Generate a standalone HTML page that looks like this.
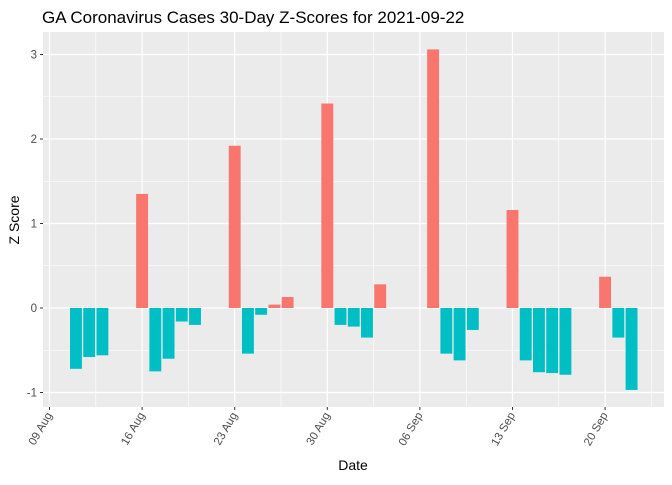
<!DOCTYPE html>
<html><head><meta charset="utf-8"><style>
body{margin:0;background:#fff;font-family:"Liberation Sans",sans-serif}
</style></head><body>
<svg id="chart" width="672" height="480" xmlns="http://www.w3.org/2000/svg" font-family="Liberation Sans, sans-serif">
<text x="42" y="23" font-size="17" fill="#000">GA Coronavirus Cases 30-Day Z-Scores for 2021-09-22</text>
<rect x="43" y="32" width="621" height="375" fill="#EBEBEB"/>
<g id="grid"></g><g id="bars"></g><g id="axes"></g>
<text x="353" y="470" font-size="14" text-anchor="middle" fill="#000">Date</text>
<text transform="translate(19,220) rotate(-90)" font-size="14" text-anchor="middle" fill="#000">Z Score</text>
</svg>
<script>
const dates=["2021-08-11","2021-08-12","2021-08-13","2021-08-16","2021-08-17","2021-08-18","2021-08-19","2021-08-20","2021-08-23","2021-08-24","2021-08-25","2021-08-26","2021-08-27","2021-08-30","2021-08-31","2021-09-01","2021-09-02","2021-09-03","2021-09-07","2021-09-08","2021-09-09","2021-09-10","2021-09-13","2021-09-14","2021-09-15","2021-09-16","2021-09-17","2021-09-20","2021-09-21","2021-09-22"];
const zScores=[-0.72,-0.58,-0.56,1.35,-0.75,-0.6,-0.16,-0.2,1.92,-0.54,-0.08,0.04,0.13,2.42,-0.2,-0.22,-0.35,0.28,3.06,-0.54,-0.62,-0.26,1.16,-0.62,-0.76,-0.77,-0.79,0.37,-0.35,-0.97];
const xTickLabels=["09 Aug","16 Aug","23 Aug","30 Aug","06 Sep","13 Sep","20 Sep"];
const xTickDates=["2021-08-09","2021-08-16","2021-08-23","2021-08-30","2021-09-06","2021-09-13","2021-09-20"];
const yTicks=[-1,0,1,2,3];
const NS="http://www.w3.org/2000/svg";
const day0=Date.parse("2021-08-09");
const pxDay=92.6/7, x0=49.5;
const xs=d=>x0+(Date.parse(d)-day0)/86400000*pxDay;
const ys=v=>308-v*84.5;
const L=43,R=664,T=32,B=407;
function mk(tag,attrs,parent){const e=document.createElementNS(NS,tag);for(const k in attrs)e.setAttribute(k,attrs[k]);parent.appendChild(e);return e;}
const grid=document.getElementById('grid'),bars=document.getElementById('bars'),axes=document.getElementById('axes');
// minor y
for(let i=0;i<yTicks.length-1;i++){const y=ys((yTicks[i]+yTicks[i+1])/2);
 const l=mk('line',{x1:L,x2:R,y1:y,y2:y,stroke:'#fff','stroke-width':0.6},grid);
 
 }
// minor x
for(let i=-1;i<xTickDates.length;i++){const x=xs(xTickDates[0])+(i+0.5)*7*pxDay;if(x<L||x>R)continue;
 const l=mk('line',{x1:x,x2:x,y1:T,y2:B,stroke:'#fff','stroke-width':0.6},grid);
 
 }
yTicks.forEach(v=>{const y=ys(v);
 const l=mk('line',{x1:L,x2:R,y1:y,y2:y,stroke:'#fff','stroke-width':1.2},grid);
 
 
 const t=mk('line',{x1:L-3,x2:L,y1:y,y2:y,stroke:'#333','stroke-width':1},axes);
 
 
 const tx=mk('text',{x:L-6,y:y+4,'font-size':11.5,'text-anchor':'end',fill:'#4D4D4D'},axes);tx.textContent=v;
 
 });
xTickDates.forEach((d,i)=>{const x=xs(d);
 const l=mk('line',{x1:x,x2:x,y1:T,y2:B,stroke:'#fff','stroke-width':1.2},grid);
 
 
 const t=mk('line',{x1:x,x2:x,y1:B,y2:B+3,stroke:'#333','stroke-width':1},axes);
 
 
 const tx=mk('text',{transform:`translate(${x+3},${B+8}) rotate(-60)`,'font-size':11.5,'text-anchor':'end',fill:'#4D4D4D'},axes);tx.textContent=xTickLabels[i];
 
 });
const bw=pxDay*0.9;
dates.forEach((d,i)=>{const v=zScores[i],x=xs(d),y0=ys(0),y1=ys(v);
 const r=mk('rect',{x:x-bw/2,y:Math.min(y0,y1),width:bw,height:Math.abs(y1-y0),fill:v>0?'#F8766D':'#00BFC4'},bars);
 
 });
</script>
</body></html>
